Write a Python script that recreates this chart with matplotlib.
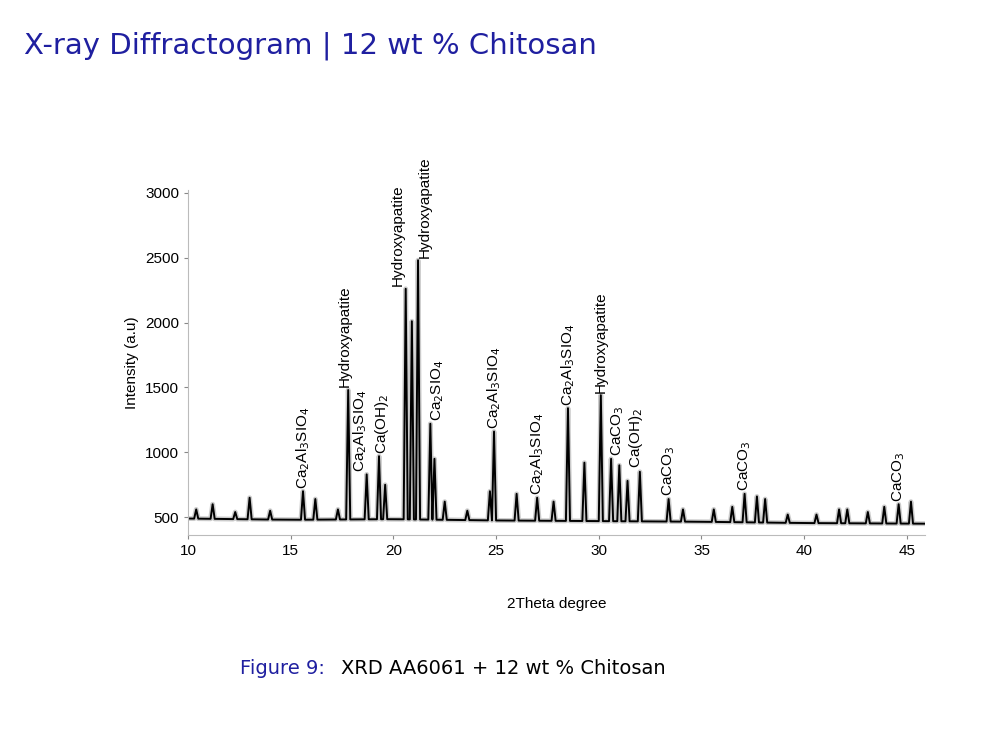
import matplotlib.pyplot as plt

plt.rcParams['font.family'] = ['Liberation Sans', 'DejaVu Sans']

# === Peak data ===
peak_pos = [10.4, 11.2, 12.3, 13.0, 14.0, 15.6, 16.2, 17.3, 17.8, 18.7, 19.3, 19.6,
            20.6, 20.9, 21.2, 21.8, 22.0, 22.5, 23.6, 24.7, 24.9, 26.0, 27.0,
            27.8, 28.5, 29.3, 30.1, 30.6, 31.0, 31.4, 32.0, 33.4, 34.1, 35.6,
            36.5, 37.1, 37.7, 38.1, 39.2, 40.6, 41.7, 42.1, 43.1, 43.9, 44.6, 45.2]
peak_h = [560, 600, 540, 650, 550, 700, 640, 560, 1480, 830, 970, 750,
          2260, 2010, 2480, 1220, 950, 620, 550, 700, 1160, 680, 650,
          620, 1340, 920, 1440, 950, 900, 780, 850, 640, 560, 560,
          580, 680, 660, 640, 520, 520, 560, 560, 540, 580, 600, 620]
base_x = [9.9, 15.0, 20.0, 25.0, 30.0, 35.0, 40.0, 45.9]
base_y = [490, 480, 485, 475, 470, 465, 455, 450]

labels = [(15.6, 720, r"Ca$_2$Al$_3$SIO$_4$"), (17.65, 1500, "Hydroxyapatite"),
          (18.4, 850, r"Ca$_2$Al$_3$SIO$_4$"), (19.45, 990, r"Ca(OH)$_2$"),
          (20.2, 2280, "Hydroxyapatite"), (21.55, 2500, "Hydroxyapatite"),
          (22.15, 1240, r"Ca$_2$SIO$_4$"), (24.9, 1180, r"Ca$_2$Al$_3$SIO$_4$"),
          (27.0, 670, r"Ca$_2$Al$_3$SIO$_4$"), (28.5, 1360, r"Ca$_2$Al$_3$SIO$_4$"),
          (30.1, 1460, "Hydroxyapatite"), (30.9, 970, r"CaCO$_3$"),
          (31.8, 880, r"Ca(OH)$_2$"), (33.4, 660, r"CaCO$_3$"),
          (37.1, 700, r"CaCO$_3$"), (44.6, 620, r"CaCO$_3$")]

def base_at(x):
    for i in range(len(base_x) - 1):
        if base_x[i] <= x <= base_x[i + 1]:
            t = (x - base_x[i]) / (base_x[i + 1] - base_x[i])
            return base_y[i] + t * (base_y[i + 1] - base_y[i])
    return base_y[-1]

xs, ys = [base_x[0]], [base_y[0]]
for p, h in zip(peak_pos, peak_h):
    for dx, yy in [(-0.1, base_at(p - 0.1)), (0, h), (0.1, base_at(p + 0.1))]:
        xs.append(p + dx)
        ys.append(yy)
xs.append(base_x[-1])
ys.append(base_y[-1])

fig = plt.figure(figsize=(10.08, 7.56), dpi=100)
fig.text(0.024, 0.94, "X-ray Diffractogram | 12 wt % Chitosan", color='#1f1fa0',
         fontsize=21, va='center', family=['DejaVu Sans'])

ax = fig.add_axes([0.1865, 0.292, 0.7315, 0.457])
ax.plot(xs, ys, color='#999999', lw=3.5, alpha=0.5)
ax.plot(xs, ys, color='black', lw=1.4)
for x, y, s in labels:
    ax.text(x, y, s, rotation=90, ha='center', va='bottom', fontsize=11)

ax.set_xlim(10, 45.9)
ax.set_ylim(361, 3023)
ax.set_xticks([10, 15, 20, 25, 30, 35, 40, 45])
ax.set_yticks([500, 1000, 1500, 2000, 2500, 3000])
ax.tick_params(labelsize=11, length=3, color='#888888')
for s in ['top', 'right']:
    ax.spines[s].set_visible(False)
for s in ['left', 'bottom']:
    ax.spines[s].set_color('#bbbbbb')
ax.set_xlabel("2Theta degree", fontsize=11, labelpad=28)
ax.set_ylabel("Intensity (a.u)", fontsize=11, labelpad=4)

fig.text(0.238, 0.116, "Figure 9:", color='#1f1fa0', fontsize=14, va='center',
         family=['DejaVu Sans'])
fig.text(0.338, 0.116, "XRD AA6061 + 12 wt % Chitosan", color='black', fontsize=14,
         va='center', family=['DejaVu Sans'])

fig.savefig("out.png", dpi=100)
